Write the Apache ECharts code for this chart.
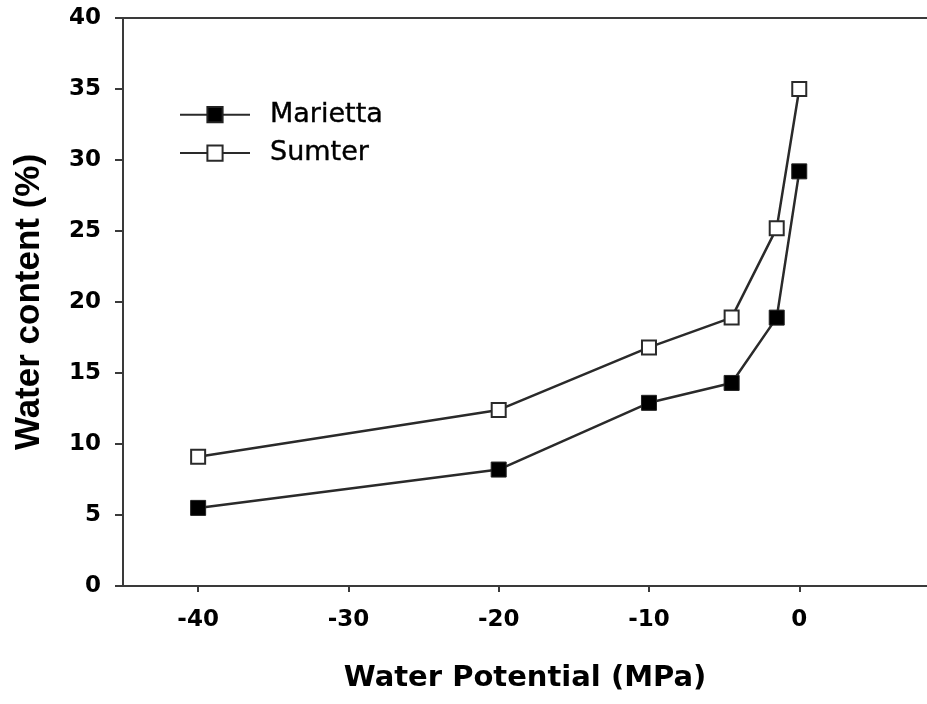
<!DOCTYPE html>
<html>
<head>
<meta charset="utf-8">
<script src="https://cdn.jsdelivr.net/npm/echarts@6/dist/echarts.min.js"></script>
<style>html,body{margin:0;padding:0;background:#fff}#c{width:927px;height:704px}</style>
</head>
<body>
<div id="c"></div>
<script>
const potential = [-40, -20, -10, -4.5, -1.5, 0];
const marietta = [5.5, 8.2, 12.9, 14.3, 18.9, 29.2];
const sumter = [9.1, 12.4, 16.8, 18.9, 25.2, 35.0];
const xTickValues = [-40, -30, -20, -10, 0];
const seriesNames = ['Marietta', 'Sumter'];

const pair = (xs, ys) => xs.map((x, i) => [x, ys[i]]);
const axisColor = '#3a3a3a';
const chart = echarts.init(document.getElementById('c'), null, {renderer: 'canvas'});
chart.setOption({
  animation: false,
  backgroundColor: '#ffffff',
  grid: {left: 123, top: 18, right: 0, bottom: 118, containLabel: false},
  legend: {
    orient: 'vertical', left: 174, top: 96,
    itemWidth: 70, itemHeight: 19, itemGap: 11,
    textStyle: {fontFamily: 'DejaVu Sans', fontSize: 27, color: '#000', lineHeight: 27, padding: [0, 0, 0, 15],
      textBorderColor: '#000', textBorderWidth: 0.4},
    data: seriesNames
  },
  xAxis: [{
    type: 'value', min: -45, max: 8.5, position: 'bottom',
    name: 'Water Potential (MPa)', nameLocation: 'middle', nameGap: 78,
    nameTextStyle: {fontFamily: 'DejaVu Sans', fontWeight: 'bold', fontSize: 29, color: '#000'},
    axisLine: {show: true, onZero: false, lineStyle: {color: axisColor, width: 2}},
    axisTick: {show: true, inside: false, length: 6, customValues: xTickValues, lineStyle: {color: axisColor, width: 2}},
    axisLabel: {customValues: xTickValues, margin: 23, fontFamily: 'DejaVu Sans', fontWeight: 'bold', fontSize: 23, color: '#000'},
    splitLine: {show: false}
  }, {
    type: 'value', min: -45, max: 8.5, position: 'top',
    axisLine: {show: true, onZero: false, lineStyle: {color: axisColor, width: 2}},
    axisTick: {show: false}, axisLabel: {show: false}, splitLine: {show: false}
  }],
  yAxis: {
    type: 'value', min: 0, max: 40, interval: 5,
    name: 'Water content (%)', nameLocation: 'middle', nameGap: 76,
    nameTextStyle: {fontFamily: 'Liberation Sans', fontWeight: 'bold', fontSize: 35, color: '#000'},
    axisLine: {show: true, onZero: false, lineStyle: {color: axisColor, width: 2}},
    axisTick: {show: true, inside: false, length: 8, lineStyle: {color: axisColor, width: 2}},
    axisLabel: {margin: 22, fontFamily: 'DejaVu Sans', fontWeight: 'bold', fontSize: 23, color: '#000'},
    splitLine: {show: false}
  },
  series: [{
    name: seriesNames[0], type: 'line', data: pair(potential, marietta),
    symbol: 'rect', symbolSize: 15,
    lineStyle: {color: '#2a2a2a', width: 2.5},
    itemStyle: {color: '#000', borderColor: '#222', borderWidth: 1}
  }, {
    name: seriesNames[1], type: 'line', data: pair(potential, sumter),
    symbol: 'rect', symbolSize: 14,
    lineStyle: {color: '#2a2a2a', width: 2.5},
    itemStyle: {color: '#fff', borderColor: '#2a2a2a', borderWidth: 2}
  }]
});
</script>
</body>
</html>
